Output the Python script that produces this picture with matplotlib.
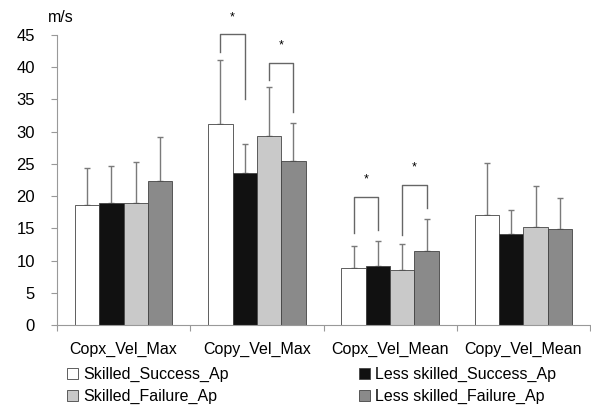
import numpy as np
import matplotlib
matplotlib.use("Agg")
import matplotlib.pyplot as plt

plt.rcParams['font.family'] = ['Liberation Sans', 'DejaVu Sans']

categories = ["Copx_Vel_Max", "Copy_Vel_Max", "Copx_Vel_Mean", "Copy_Vel_Mean"]
series_names = ["Skilled_Success_Ap", "Less skilled_Success_Ap",
                "Skilled_Failure_Ap", "Less skilled_Failure_Ap"]

# mean values per series (one entry per category)
skilled_success = [18.6, 31.2, 8.8, 17.1]
less_success = [18.9, 23.6, 9.2, 14.1]
skilled_failure = [19.0, 29.4, 8.6, 15.2]
less_failure = [22.3, 25.4, 11.5, 14.9]

# standard deviations (upper error bars only)
skilled_success_sd = [5.8, 9.9, 3.5, 8.1]
less_success_sd = [5.7, 4.5, 3.8, 3.7]
skilled_failure_sd = [6.3, 7.5, 3.9, 6.4]
less_failure_sd = [6.8, 6.0, 4.9, 4.8]

# significance brackets: (category, bar a, bar b, top, leg a bottom, leg b bottom, star y)
brackets = [
    (1, 0, 1, 45.1, 42.4, 35.1, 47.7),
    (1, 2, 3, 40.6, 38.0, 33.1, 43.4),
    (2, 0, 1, 19.9, 14.2, 14.7, 22.6),
    (2, 2, 3, 21.7, 14.0, 18.2, 24.4),
]

means = [skilled_success, less_success, skilled_failure, less_failure]
sds = [skilled_success_sd, less_success_sd, skilled_failure_sd, less_failure_sd]
colors = ["white", "#111111", "#c9c9c9", "#8a8a8a"]

fig = plt.figure(figsize=(5.91, 4.07), dpi=100)
ax = fig.add_axes([57 / 591, 1 - 325 / 407, 533 / 591, 290 / 407])

x = np.arange(len(categories))
w = 0.1825
offsets = (np.arange(4) - 1.5) * w
bars = []
for k in range(4):
    b = ax.bar(x + offsets[k], means[k], w, color=colors[k], edgecolor="#444444",
               linewidth=0.6, label=series_names[k], zorder=2)
    bars.append(b)
    ax.errorbar(x + offsets[k], means[k], yerr=[np.zeros(4), sds[k]], fmt="none",
                ecolor="#7a7a7a", elinewidth=1, capsize=2, capthick=1, zorder=1)

for cat, a, b, top, ya, yb, sy in brackets:
    xa = x[cat] + offsets[a]
    xb = x[cat] + offsets[b]
    ax.plot([xa, xa, xb, xb], [ya, top, top, yb], color="#666666", lw=1, zorder=3,
            clip_on=False)
    ax.text((xa + xb) / 2, sy, "*", ha="center", va="center", fontsize=9)

ax.set_xlim(-0.5, 3.5)
ax.set_ylim(0, 45)
ax.set_yticks(np.arange(0, 46, 5))
ax.set_xticks(np.arange(-0.5, 3.6, 1))
ax.set_xticklabels([])
ax.set_xticks(x, minor=True)
ax.set_xticklabels(categories, minor=True, fontsize=11.5)
ax.tick_params(axis="x", which="minor", length=0, pad=12)
ax.tick_params(axis="x", which="major", length=4, color="#999999", direction="out")
ax.tick_params(axis="y", length=4, color="#999999", labelsize=12, pad=12)

for side in ["top", "right"]:
    ax.spines[side].set_visible(False)
for side in ["left", "bottom"]:
    ax.spines[side].set_color("#999999")

fig.text(48 / 591, 1 - 17 / 407, "m/s", fontsize=11.5, va="center")

handles = [bars[0], bars[2], bars[1], bars[3]]
labels = [series_names[0], series_names[2], series_names[1], series_names[3]]
fig.legend(handles, labels, ncol=2, loc="upper left", bbox_to_anchor=(59 / 591, 1 - 359 / 407),
           frameon=False, fontsize=11.5, handlelength=0.7, handleheight=0.7,
           handletextpad=0.3, columnspacing=8.15, labelspacing=0.42, borderpad=0)

fig.savefig("out.png", dpi=100)
